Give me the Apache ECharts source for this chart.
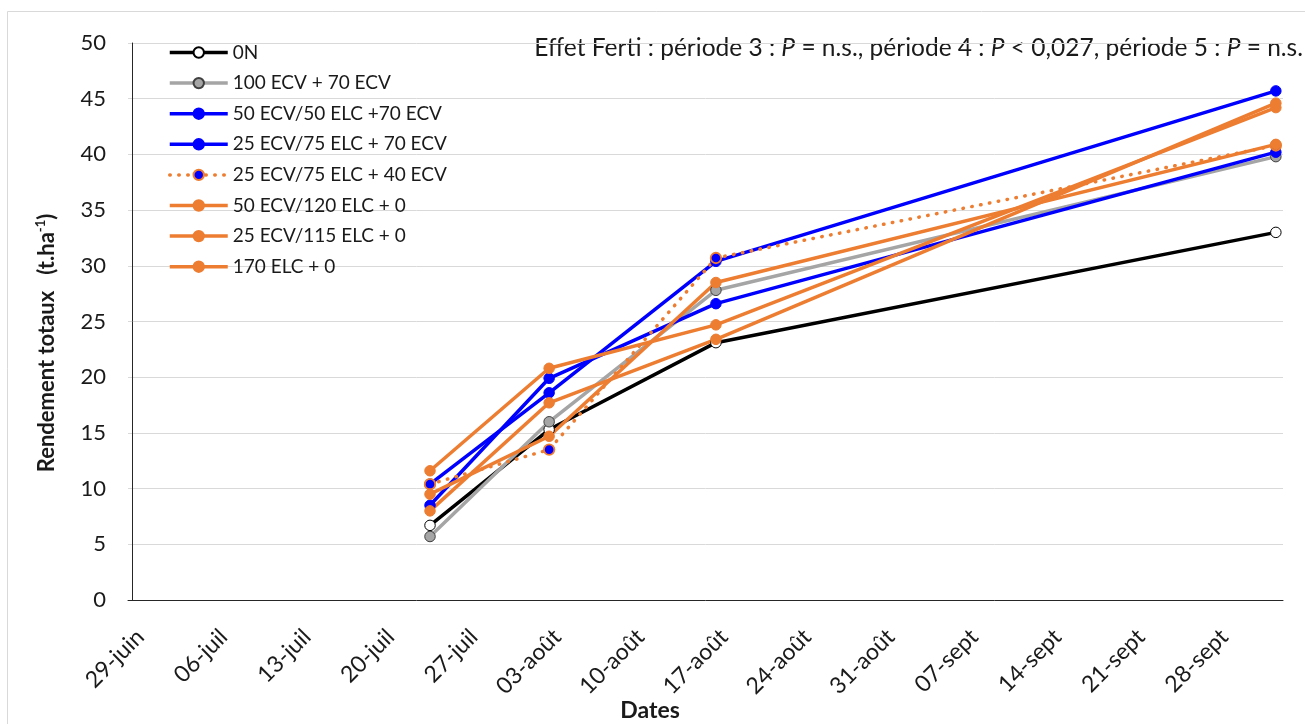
<!DOCTYPE html>
<html>
<head>
<meta charset="utf-8">
<script src="https://cdn.jsdelivr.net/npm/echarts@6/dist/echarts.min.js"></script>
<style>
html,body{margin:0;padding:0;background:#fff;}
#chart{width:1305px;height:724px;}
</style>
</head>
<body>
<div id="chart"></div>
<script>
// Days after 29-juin for each sampling date (24-juil, 03-août, 17-août, 03-oct)
var sampleDays = [25, 35, 49, 96];
var tickDays = [0, 7, 14, 21, 28, 35, 42, 49, 56, 63, 70, 77, 84, 91];
var tickLabels = ['29-juin','06-juil','13-juil','20-juil','27-juil','03-août','10-août','17-août','24-août','31-août','07-sept','14-sept','21-sept','28-sept'];
var seriesNames = ['0N','100 ECV + 70 ECV','50 ECV/50 ELC +70 ECV','25 ECV/75 ELC + 70 ECV','25 ECV/75 ELC + 40 ECV','50 ECV/120 ELC + 0','25 ECV/115 ELC + 0','170 ELC + 0'];
var v0N      = [6.7, 15.3, 23.1, 33.0];
var v100_70  = [5.7, 16.0, 27.8, 39.8];
var v50_50   = [10.4, 18.6, 30.4, 45.7];
var v25_75_70= [8.5, 19.9, 26.6, 40.2];
var v25_75_40= [10.4, 13.5, 30.7, 40.8];
var v50_120  = [11.6, 20.8, 24.7, 44.2];
var v25_115  = [8.0, 17.7, 23.4, 44.6];
var v170     = [9.5, 14.7, 28.5, 40.9];

var FONT = 'Lato, "Open Sans", sans-serif';
var BLUE = '#0000ff', ORANGE = '#ed7d31', GRAY = '#a5a5a5';
var TXT = '#1a1a1a';

function pts(vals){ return vals.map(function(v,i){ return [sampleDays[i], v]; }); }

function mk(name, vals, color, markerFill, markerBorder, dotted){
  return {
    name: name, type: 'line', data: pts(vals),
    symbol: 'circle', symbolSize: 10.5,
    lineStyle: dotted ? {color: color, width: 3.5, type: [0.5, 8.5], cap: 'round'} : {color: color, width: 3.5},
    itemStyle: {color: markerFill, borderColor: markerBorder, borderWidth: dotted ? 1.8 : 1},
    emphasis: {disabled: true},
    animation: false
  };
}

var series = [
  mk(seriesNames[0], v0N, '#000000', '#ffffff', '#000000'),
  mk(seriesNames[1], v100_70, GRAY, GRAY, '#404040'),
  mk(seriesNames[2], v50_50, BLUE, BLUE, BLUE),
  mk(seriesNames[3], v25_75_70, BLUE, BLUE, BLUE),
  mk(seriesNames[4], v25_75_40, ORANGE, BLUE, ORANGE, true),
  mk(seriesNames[5], v50_120, ORANGE, ORANGE, ORANGE),
  mk(seriesNames[6], v25_115, ORANGE, ORANGE, ORANGE),
  mk(seriesNames[7], v170, ORANGE, ORANGE, ORANGE)
];

var chart = echarts.init(document.getElementById('chart'), null, {renderer: 'canvas'});
chart.setOption({
  animation: false,
  backgroundColor: '#ffffff',
  textStyle: {fontFamily: FONT},
  grid: {left: 128, right: 22, top: 43, bottom: 124, containLabel: false},
  legend: {
    orient: 'vertical', left: 163, top: 38,
    itemWidth: 58, itemHeight: 13, itemGap: 11.6,
    lineStyle: {width: 3.5},
    textStyle: {fontFamily: FONT, fontSize: 19, color: TXT, lineHeight: 18},
    data: seriesNames
  },
  xAxis: {
    type: 'value', min: -0.35, max: 96.6,
    axisLine: {show: true, lineStyle: {color: '#262626', width: 1}},
    axisTick: {show: false},
    splitLine: {show: false},
    axisLabel: {
      rotate: 45, margin: 25, fontSize: 23, color: TXT, fontFamily: FONT,
      verticalAlign: 'top',
      customValues: tickDays,
      formatter: function(v){ var i = tickDays.indexOf(Math.round(v)); return i >= 0 ? tickLabels[i] : ''; }
    }
  },
  yAxis: {
    type: 'value', min: 0, max: 50, interval: 5,
    axisLine: {show: true, lineStyle: {color: '#262626', width: 1}},
    axisTick: {show: false},
    splitLine: {show: true, lineStyle: {color: '#d9d9d9', width: 1}},
    axisLabel: {margin: 22, fontSize: 22, color: TXT, fontFamily: FONT}
  },
  graphic: [
    {type: 'rect', shape: {x: 7.5, y: 11.5, width: 1320, height: 740}, style: {fill: null, stroke: '#d9d9d9', lineWidth: 1}, silent: true, z: -10},
    {type: 'text', x: 1303, y: 48, silent: true,
     style: {
       text: '{n|Effet Ferti : période 3 : }{i|P}{n| = n.s., période 4 : }{i|P}{n| < 0,027, période 5 : }{i|P}{n| = n.s.}',
       align: 'right', verticalAlign: 'middle',
       rich: {
         n: {fontFamily: FONT, fontSize: 24.5, fill: TXT},
         i: {fontFamily: FONT, fontSize: 24.5, fontStyle: 'italic', fill: TXT}
       }
     }},
    {type: 'text', x: 47, y: 343, rotation: Math.PI / 2, silent: true,
     style: {
       text: '{b|Rendement totaux   (t.ha}{s|-1}{b|)}',
       align: 'center', verticalAlign: 'middle',
       rich: {
         b: {fontFamily: FONT, fontSize: 22, fontWeight: 'bold', fill: TXT, lineHeight: 26},
         s: {fontFamily: FONT, fontSize: 13, fontWeight: 'bold', fill: TXT, verticalAlign: 'top', lineHeight: 26, padding: [0, 0, 10, 0]}
       }
     }},
    {type: 'text', x: 650, y: 711, silent: true,
     style: {text: 'Dates', align: 'center', verticalAlign: 'middle', fontFamily: FONT, fontSize: 23, fontWeight: 'bold', fill: TXT}}
  ],
  series: series
});
</script>
</body>
</html>
